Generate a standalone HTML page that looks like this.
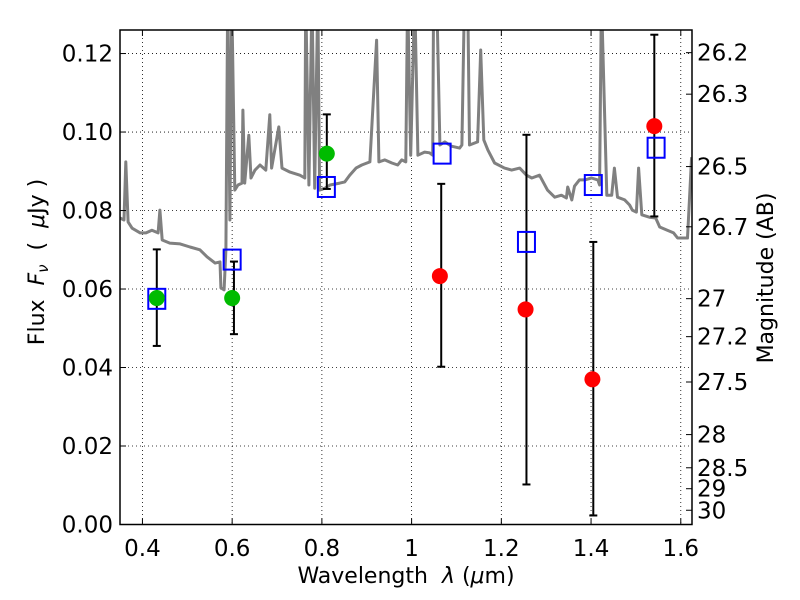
<!DOCTYPE html>
<html><head><meta charset="utf-8"><style>
html,body{margin:0;padding:0;background:#fff;}
svg{display:block;font-family:"DejaVu Sans","Liberation Sans",sans-serif;}
</style></head><body>
<svg id="chart" width="800" height="600" viewBox="0 0 800 600" xmlns="http://www.w3.org/2000/svg">
<defs><clipPath id="clip"><rect x="120" y="30" width="572" height="494.5"/></clipPath></defs>
<rect width="800" height="600" fill="#fff"/>
<g id="grid"></g>
<g id="spec" clip-path="url(#clip)"></g>
<g id="marks"></g>
<rect x="120" y="30" width="572" height="494.5" fill="none" stroke="#000" stroke-width="1.5"/>
<g id="axes"></g>
<text x="406" y="583" font-size="22" text-anchor="middle" xml:space="preserve">Wavelength  <tspan font-style="italic">λ</tspan> (<tspan font-style="italic">μ</tspan>m)</text>
<text transform="translate(44,262) rotate(-90)" font-size="22" text-anchor="middle" xml:space="preserve">Flux  <tspan font-style="italic">F</tspan><tspan font-style="italic" font-size="15" dy="4">ν</tspan><tspan dy="-4">  (  </tspan><tspan font-style="italic">μ</tspan>Jy )</text>
<text transform="translate(773,278) rotate(-90)" font-size="22" text-anchor="middle">Magnitude (AB)</text>
</svg>
<script>
const specLam=[0.350,0.359,0.363,0.368,0.377,0.395,0.408,0.421,0.435,0.439,0.444,0.461,0.484,0.506,0.528,0.544,0.562,0.573,0.575,0.582,0.586,0.590,0.595,0.599,0.606,0.613,0.622,0.624,0.628,0.637,0.642,0.651,0.662,0.675,0.684,0.688,0.704,0.711,0.729,0.751,0.762,0.764,0.771,0.778,0.784,0.791,0.795,0.807,0.818,0.840,0.851,0.862,0.876,0.889,0.907,0.922,0.927,0.940,0.956,0.969,0.978,0.987,0.991,0.998,1.007,1.014,1.029,1.040,1.047,1.049,1.056,1.063,1.074,1.089,1.107,1.112,1.118,1.125,1.129,1.147,1.154,1.161,1.170,1.185,1.207,1.223,1.241,1.256,1.268,1.285,1.303,1.319,1.334,1.345,1.348,1.357,1.363,1.374,1.386,1.401,1.415,1.419,1.423,1.435,1.446,1.452,1.459,1.475,1.486,1.492,1.501,1.506,1.513,1.530,1.544,1.553,1.570,1.584,1.593,1.615,1.624];
const specFlux=[0.0781,0.0776,0.0924,0.0771,0.0755,0.0743,0.0743,0.0750,0.0743,0.0801,0.0725,0.0717,0.0715,0.0707,0.0700,0.0682,0.0666,0.0669,0.0603,0.0598,0.0700,0.135,0.0776,0.135,0.0852,0.0865,0.0870,0.1056,0.0870,0.0992,0.0883,0.0903,0.0916,0.0903,0.1044,0.0908,0.1013,0.0908,0.0898,0.0890,0.0883,0.135,0.0865,0.135,0.0857,0.135,0.0852,0.0857,0.0865,0.0870,0.0873,0.0890,0.0908,0.0916,0.0924,0.1234,0.0924,0.0929,0.0921,0.0916,0.0929,0.0924,0.135,0.0941,0.135,0.0941,0.0949,0.0947,0.0941,0.135,0.135,0.0967,0.0975,0.0964,0.0959,0.0967,0.135,0.135,0.0967,0.0975,0.1209,0.0980,0.0954,0.0921,0.0908,0.0903,0.0908,0.0890,0.0883,0.0890,0.0852,0.0834,0.0839,0.0832,0.0860,0.0827,0.0862,0.0878,0.0878,0.0883,0.0878,0.0865,0.135,0.0839,0.0839,0.0908,0.0834,0.0827,0.0814,0.0801,0.0796,0.0908,0.0789,0.0783,0.0781,0.0758,0.0750,0.0743,0.0730,0.0730,0.0936];
const greenLam=[0.432,0.600,0.811];
const greenFlux=[0.0577,0.0577,0.0945];
const redLam=[1.063,1.254,1.403,1.541];
const redFlux=[0.0633,0.0548,0.0370,0.1015];
const blueLam=[0.432,0.600,0.810,1.068,1.256,1.405,1.545];
const blueFlux=[0.0575,0.0675,0.0860,0.0945,0.0720,0.0865,0.0960];
const errLam=[0.432,0.604,0.811,1.066,1.256,1.405,1.541];
const errHi=[0.0701,0.0670,0.1045,0.0868,0.0993,0.0720,0.1248];
const errLo=[0.0455,0.0485,0.0855,0.0402,0.0102,0.0023,0.0785];
const xTicks=[0.4,0.6,0.8,1.0,1.2,1.4,1.6];
const xTickLabels=["0.4","0.6","0.8","1","1.2","1.4","1.6"];
const yTicks=[0,0.02,0.04,0.06,0.08,0.10,0.12];
const yTickLabels=["0.00","0.02","0.04","0.06","0.08","0.10","0.12"];
const magTicks=[26.2,26.3,26.5,26.7,27,27.2,27.5,28,28.5,29,30];
const magTickLabels=["26.2","26.3","26.5","26.7","27","27.2","27.5","28","28.5","29","30"];

const NS="http://www.w3.org/2000/svg";
const X0=120,X1=692,Y0=524.5,Y1=30,XMIN=0.35,XMAX=1.625,YMIN=0,YMAX=0.126;
function xs(v){return X0+(v-XMIN)/(XMAX-XMIN)*(X1-X0);}
function ys(v){return Y0-(v-YMIN)/(YMAX-YMIN)*(Y0-Y1);}
function mk(tag,attrs,parent){const e=document.createElementNS(NS,tag);for(const k in attrs)e.setAttribute(k,attrs[k]);parent.appendChild(e);return e;}
const grid=document.getElementById('grid'),axes=document.getElementById('axes'),spec=document.getElementById('spec'),marks=document.getElementById('marks');

xTicks.forEach((t,i)=>{const x=xs(t);
 const g=mk('line',{x1:x,x2:x,y1:Y1,y2:Y0,stroke:'#000','stroke-width':0.8,'stroke-dasharray':'1,3'},grid);
 
 
 mk('line',{x1:x,x2:x,y1:Y0,y2:Y0-6,stroke:'#000','stroke-width':1},axes);
 mk('line',{x1:x,x2:x,y1:Y1,y2:Y1+6,stroke:'#000','stroke-width':1},axes);
 const tx=mk('text',{x:x,y:556,'font-size':23,'text-anchor':'middle'},axes);tx.textContent=xTickLabels[i];
 
 
});
yTicks.forEach((t,i)=>{const y=ys(t);
 const g=mk('line',{x1:X0,x2:X1,y1:y,y2:y,stroke:'#000','stroke-width':0.8,'stroke-dasharray':'1,3'},grid);
 
 
 mk('line',{x1:X0,x2:X0+6,y1:y,y2:y,stroke:'#000','stroke-width':1},axes);
 const tx=mk('text',{x:113,y:y+8,'font-size':23,'text-anchor':'end'},axes);tx.textContent=yTickLabels[i];
 
 
});
magTicks.forEach((m,i)=>{const y=ys(Math.pow(10,(23.9-m)/2.5));
 mk('line',{x1:X1,x2:X1-6,y1:y,y2:y,stroke:'#000','stroke-width':1},axes);
 const tx=mk('text',{x:697,y:y+8,'font-size':23,'text-anchor':'start'},axes);tx.textContent=magTickLabels[i];
 
 
});

let d='';specLam.forEach((l,i)=>{d+=(i?'L':'M')+xs(l).toFixed(1)+','+ys(specFlux[i]).toFixed(1);});
const sp=mk('path',{d:d,fill:'none',stroke:'#808080','stroke-width':3,'stroke-linejoin':'round'},spec);



errLam.forEach((l,i)=>{const x=xs(l),a=ys(errHi[i]),b=ys(errLo[i]);
 const g=mk('g',{},marks);
 
 
 mk('line',{x1:x,x2:x,y1:a,y2:b,stroke:'#000','stroke-width':2},g);
 mk('line',{x1:x-4,x2:x+4,y1:a,y2:a,stroke:'#000','stroke-width':2},g);
 mk('line',{x1:x-4,x2:x+4,y1:b,y2:b,stroke:'#000','stroke-width':2},g);
});
blueLam.forEach((l,i)=>{const x=xs(l),y=ys(blueFlux[i]);
 const r=mk('rect',{x:x-8.5,y:y-10,width:17,height:20,fill:'none',stroke:'#0000ff','stroke-width':2},marks);
 
 
});
greenLam.forEach((l,i)=>{
 const c=mk('circle',{cx:xs(l),cy:ys(greenFlux[i]),r:8,fill:'#00bb00'},marks);
 
 
});
redLam.forEach((l,i)=>{
 const c=mk('circle',{cx:xs(l),cy:ys(redFlux[i]),r:8,fill:'#ff0000'},marks);
 
 
});
</script>
</body></html>
